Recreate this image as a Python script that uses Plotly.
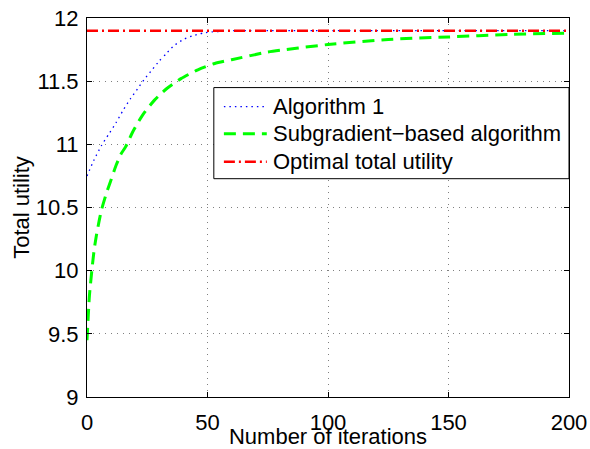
import plotly.graph_objects as go

# ---- data ----
alg1_x = [0, 3, 6, 9, 12, 15, 18, 21, 24, 27, 30, 33, 36, 40, 44, 48, 52, 56, 60, 80, 100, 150, 200]
alg1_y = [10.75, 10.88, 10.99, 11.08, 11.17, 11.27, 11.36, 11.44, 11.52, 11.59, 11.66, 11.72, 11.78,
          11.83, 11.86, 11.88, 11.89, 11.895, 11.9, 11.9, 11.9, 11.9, 11.9]

sub_x = [0, 1, 2, 3, 4, 5, 6, 8, 10, 12, 14, 16, 19, 23, 28, 33, 39, 46, 53, 60, 75, 100, 125, 150, 175, 200]
sub_y = [9.45, 9.8, 10.0, 10.17, 10.29, 10.39, 10.48, 10.61, 10.72, 10.83, 10.92, 10.98, 11.10, 11.23,
         11.35, 11.44, 11.52, 11.59, 11.64, 11.67, 11.73, 11.79, 11.83, 11.85, 11.87, 11.88]

opt_x = [0, 200]
opt_y = [11.9, 11.9]

x_ticks = [0, 50, 100, 150, 200]
y_ticks = [9, 9.5, 10, 10.5, 11, 11.5, 12]

names = ["Algorithm 1", "Subgradient\u2212based algorithm", "Optimal total utility"]

FONT = "Liberation Sans, Arial, Helvetica, sans-serif"

styles = [
    dict(color="#0000ff", width=1.3, dash="1.5px,4px"),
    dict(color="#00ff00", width=3, dash="12px,7px"),
    dict(color="#ff0000", width=2.5, dash="11px,4px,2px,4px"),
]

fig = go.Figure()
fig.add_trace(go.Scatter(x=alg1_x, y=alg1_y, mode="lines", name=names[0], showlegend=False,
                         line=dict(**styles[0], shape="spline", smoothing=0.6)))
fig.add_trace(go.Scatter(x=sub_x, y=sub_y, mode="lines", name=names[1], showlegend=False,
                         line=dict(**styles[1], shape="spline", smoothing=0.6)))
fig.add_trace(go.Scatter(x=opt_x, y=opt_y, mode="lines", name=names[2], showlegend=False,
                         line=dict(**styles[2])))

axis_common = dict(
    showline=True, linecolor="black", linewidth=1, mirror="ticks",
    ticks="inside", ticklen=5, tickcolor="black", tickwidth=1,
    showgrid=True, gridcolor="#808080", griddash="1px,5px", gridwidth=1,
    zeroline=False, tickfont=dict(family=FONT, size=22, color="black"),
    ticklabeloverflow="allow",
)

fig.update_xaxes(range=[0, 200], tickvals=x_ticks, ticklabelstandoff=6,
                 title=dict(text="Number of iterations", font=dict(family=FONT, size=22, color="black"), standoff=5),
                 **axis_common)
fig.update_yaxes(range=[9, 12], tickvals=y_ticks, ticklabelstandoff=3,
                 title=dict(text="Total utility", font=dict(family=FONT, size=22, color="black"), standoff=0),
                 **axis_common)

# legend box (MATLAB style), drawn in plot-area paper coordinates
box = dict(x0=0.2631, x1=1.0, y0=0.5760, y1=0.8164)
fig.add_shape(type="rect", xref="paper", yref="paper", **box,
              line=dict(color="black", width=1), fillcolor="white", layer="above")
row_y = [0.7662, 0.6948, 0.6209]
for name, st, yy in zip(names, styles, row_y):
    fig.add_shape(type="line", xref="paper", yref="paper", x0=0.284, x1=0.373, y0=yy, y1=yy,
                  line=st, layer="above")
    fig.add_annotation(xref="paper", yref="paper", x=0.382, y=yy, text=name, showarrow=False,
                       xanchor="left", yanchor="middle",
                       font=dict(family=FONT, size=22, color="black"))

fig.update_layout(
    width=590, height=449,
    margin=dict(l=87, r=21, t=18, b=52, autoexpand=False),
    plot_bgcolor="white", paper_bgcolor="white",
    font=dict(family=FONT, size=22, color="black"),
    showlegend=False,
)

# remove the default page margin so the 590x449 figure fills the window exactly
fig.write_html(
    "out.html",
    config={"displayModeBar": False},
    post_script=("document.body.style.margin='0';document.body.style.padding='0';"
                 "document.documentElement.style.overflow='hidden';document.body.style.overflow='hidden';"),
)
